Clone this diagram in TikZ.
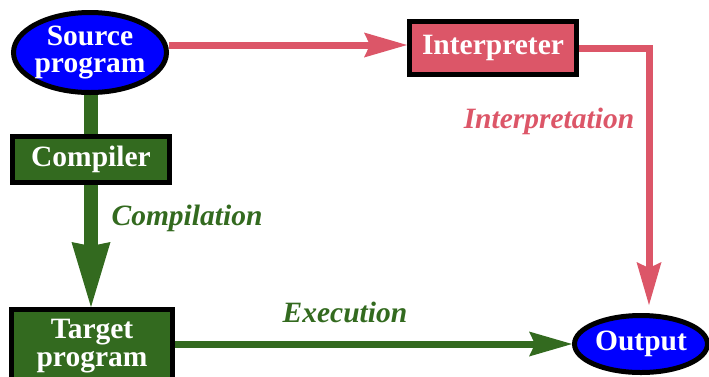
\documentclass[tikz,border=0pt]{standalone}
\usepackage{fontspec}
\setmainfont{Liberation Serif}
\usetikzlibrary{arrows.meta,shapes.geometric,backgrounds}
\definecolor{gcol}{RGB}{51,106,31}
\definecolor{pcol}{RGB}{220,86,104}
\definecolor{bcol}{RGB}{0,0,255}
\tikzset{
  nfont/.style={font=\fontsize{29.5}{27.5}\selectfont\bfseries},
  ellnode/.style={ellipse,draw=black,line width=5pt,fill=bcol,text=white,nfont,align=center,inner xsep=-6pt,inner ysep=-6pt},
  boxnode/.style={rectangle,draw=black,line width=5pt,text=white,nfont,align=center,inner sep=0pt},
  lbl/.style={font=\fontsize{29.5}{27}\selectfont\bfseries\itshape,anchor=base,inner sep=0pt},
  thintip/.style={-{Stealth[length=43pt,width=25pt,inset=6pt,line width=0pt]}},
  thicktip/.style={-{Stealth[length=65pt,width=39pt,inset=4pt,line width=0pt]}},
  pinkarrow/.style={draw=pcol,line width=7pt,thintip},
  greenarrow/.style={draw=gcol,line width=7pt,thintip},
}
\begin{document}
\begin{tikzpicture}[x=1pt,y=-1pt]
\useasboundingbox (0,0) rectangle (709,376);
\node[ellnode,minimum width=153pt,minimum height=80pt] (src) at (90,52.5) {Source\\program};
\node[boxnode,fill=gcol,minimum width=157pt,minimum height=46pt] (cmp) at (91,159.5) {Compiler};
\node[boxnode,fill=gcol,minimum width=161pt,minimum height=73pt] (tgt) at (92,346) {Target\\program};
\node[boxnode,fill=pcol,minimum width=167pt,minimum height=53pt] (interp) at (493,48) {Interpreter};
\node[ellnode,minimum width=133pt,minimum height=57pt,inner xsep=-3pt] (out) at (641,344) {Output};
\begin{pgfonlayer}{background}
\draw[gcol,line width=14pt] (cmp.center |- src.center) -- (cmp.center);
\end{pgfonlayer}
\draw[gcol,line width=14pt,thicktip] (cmp.south) -- (cmp.south |- tgt.north);
\draw[pinkarrow] ([yshift=7.5pt]src.east) -- ([yshift=7.5pt]src.east -| interp.west);
\draw[pinkarrow] (interp.east) -| ([xshift=8pt,yshift=8pt]out.north);
\draw[greenarrow] (tgt.east |- out.west) -- (out.west);
\node[lbl,text=gcol] (lc) at (187,225) {Compilation};
\node[lbl,text=pcol] (li) at (549,128) {Interpretation};
\node[lbl,text=gcol] (le) at (345,322) {Execution};
\end{tikzpicture}
\end{document}
